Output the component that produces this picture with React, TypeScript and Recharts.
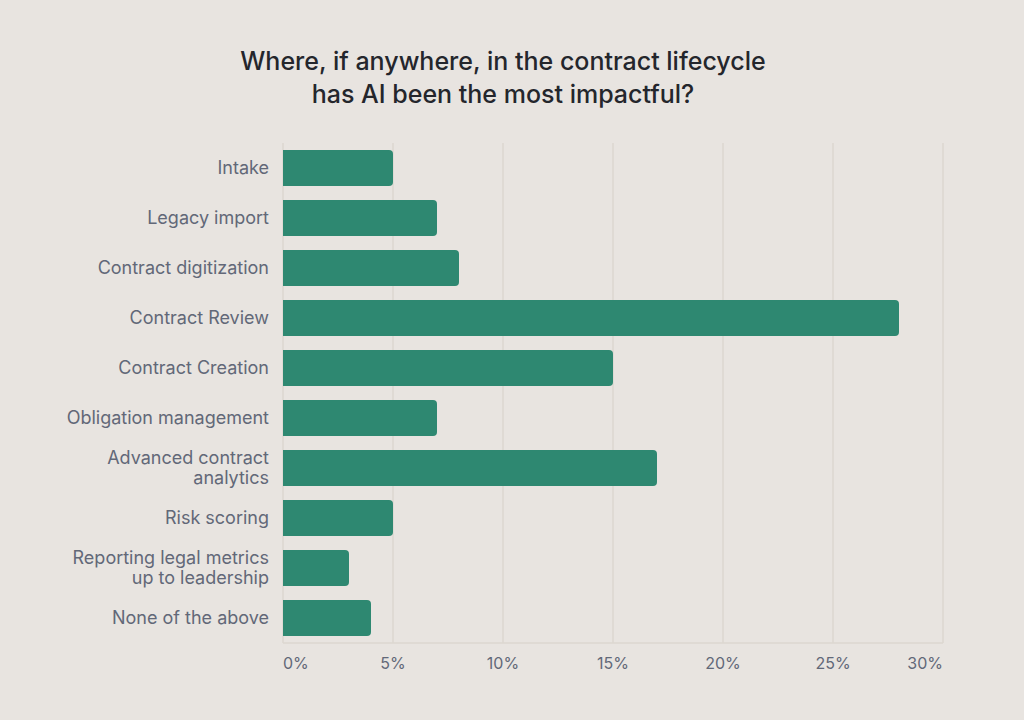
import React from "react";
import { BarChart, Bar, XAxis, YAxis, CartesianGrid } from "recharts";

const categories = [
  "Intake",
  "Legacy import",
  "Contract digitization",
  "Contract Review",
  "Contract Creation",
  "Obligation management",
  "Advanced contract\nanalytics",
  "Risk scoring",
  "Reporting legal metrics\nup to leadership",
  "None of the above",
];
const values = [5, 7, 8, 28, 15, 7, 17, 5, 3, 4];
const xTicks = [0, 5, 10, 15, 20, 25, 30];

const data = categories.map((c, i) => ({ name: c, value: values[i] }));

const BG = "#E8E4E0";
const GRID = "#DCD7D1";
const BAR = "#2E8871";
const LABEL = "#626878";
const FONT = "Inter, 'Noto Sans', sans-serif";

const YTick = (props: any) => {
  const { x, y, payload } = props;
  const lines = String(payload.value).split("\n");
  const lh = 20;
  const start = -((lines.length - 1) * lh) / 2;
  return (
    <text
      x={x - 6}
      y={y}
      textAnchor="end"
      fill={LABEL}
      fontSize={18}
      fontFamily={FONT}
    >
      {lines.map((l, i) => (
        <tspan key={i} x={x - 6} y={y + start + i * lh} dy="0.35em">
          {l}
        </tspan>
      ))}
    </text>
  );
};

const XTick = (props: any) => {
  const { x, y, payload, index } = props;
  const anchor = index === 0 ? "start" : index === xTicks.length - 1 ? "end" : "middle";
  return (
    <text
      x={x}
      y={y + 18}
      textAnchor={anchor}
      fill={LABEL}
      fontSize={16}
      fontFamily={FONT}
    >
      {payload.value}%
    </text>
  );
};

export default function App() {
  return (
    <div
      style={{
        position: "absolute",
        left: 0,
        top: 0,
        width: 1024,
        height: 720,
        background: BG,
        fontFamily: FONT,
        overflow: "hidden",
      }}
    >
      <div
        style={{
          position: "absolute",
          left: 0,
          top: 45,
          width: 1006,
          textAlign: "center",
          fontSize: 25,
          fontWeight: 500,
          lineHeight: "33px",
          color: "#24262C",
        }}
      >
        Where, if anywhere, in the contract lifecycle
        <br />
        has AI been the most impactful?
      </div>
      <div style={{ position: "absolute", left: 0, top: 0 }}>
        <BarChart
          width={1024}
          height={720}
          data={data}
          layout="vertical"
          margin={{ top: 143, right: 81, bottom: 37, left: 0 }}
          barCategoryGap={7}
        >
          <CartesianGrid stroke={GRID} strokeWidth={1.5} horizontal={false} vertical={true} />
          <XAxis
            type="number"
            domain={[0, 30]}
            ticks={xTicks}
            height={40}
            axisLine={{ stroke: GRID, strokeWidth: 1.5 }}
            tickLine={false}
            tick={<XTick />}
            interval={0}
          />
          <YAxis
            type="category"
            dataKey="name"
            width={283}
            axisLine={false}
            tickLine={false}
            tick={<YTick />}
            interval={0}
          />
          <Bar
            dataKey="value"
            fill={BAR}
            radius={[0, 4, 4, 0]}
            isAnimationActive={false}
          />
        </BarChart>
      </div>
    </div>
  );
}
